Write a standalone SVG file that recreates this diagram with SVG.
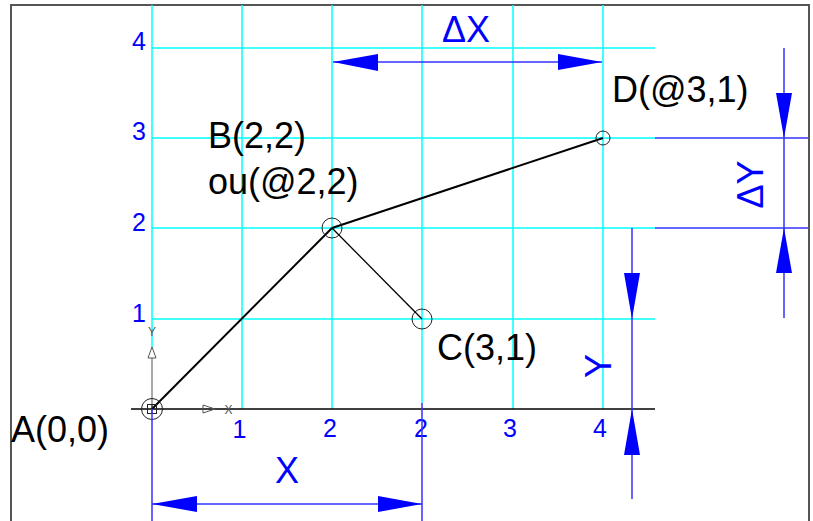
<svg xmlns="http://www.w3.org/2000/svg" width="813" height="521" viewBox="0 0 813 521">
<style>
.grid{stroke:#00ffff;stroke-width:1.5;fill:none}
.dim{stroke:#3333ff;stroke-width:1.5;fill:none}
.arr{fill:#0000ff;stroke:none}
.tick{font-family:"Liberation Sans",Arial,sans-serif;font-size:25px;fill:#0000ff}
.dl{font-family:"Liberation Sans",Arial,sans-serif;font-size:36px;fill:#0000ff}
.lbl{font-family:"Liberation Sans",Arial,sans-serif;font-size:36px;fill:#000}
.seg{stroke:#000;fill:none}
.pt{stroke:#222;stroke-width:1;fill:none}
.ucs{stroke:#555;stroke-width:1;fill:none}
.ucst{font-family:"Liberation Sans",Arial,sans-serif;font-size:12px;fill:#555}
</style>
<rect width="813" height="521" fill="#fff"/>
<g id="frame" stroke="#555" stroke-width="2" fill="none">
<path d="M11,521 V5 H809 V521"/>
</g>
<g id="grid" class="grid">
<path d="M152,5 V347 M242,5 V409 M332,5 V409 M422,5 V403 M513,5 V409 M603,5 V409"/>
<path d="M152,48 H655 M152,138 H655 M152,228 H655 M152,319 H655"/>
</g>
<g id="axis">
<path d="M131,409 H655" stroke="#000" stroke-width="1.5"/>
</g>
<g id="ticks">
<text class="tick" x="146" y="50" text-anchor="end">4</text>
<text class="tick" x="146" y="140" text-anchor="end">3</text>
<text class="tick" x="146" y="231" text-anchor="end">2</text>
<text class="tick" x="146" y="322" text-anchor="end">1</text>
<text class="tick" x="232.5" y="438">1</text>
<text class="tick" x="330" y="437" text-anchor="middle">2</text>
<text class="tick" x="421" y="437" text-anchor="middle">2</text>
<text class="tick" x="510" y="437" text-anchor="middle">3</text>
<text class="tick" x="600" y="437" text-anchor="middle">4</text>
</g>
<g id="ucs">
<path class="ucs" d="M152,358 V409"/>
<polygon class="ucs" points="152,347 148,358 156,358"/>
<polygon class="ucs" points="215,409 203,405 203,413"/>
<text class="ucst" x="152" y="336" text-anchor="middle">Y</text>
<text class="ucst" x="224.5" y="413.5">X</text>
</g>
<g id="connectors">
<path class="seg" stroke-width="2" d="M152,409 L332,228"/>
<path class="seg" stroke-width="2" d="M332,228 L603,138"/>
<path class="seg" stroke-width="1.3" d="M332,228 L422,319"/>
</g>
<g id="A">
<circle class="pt" cx="152" cy="409" r="10.5"/>
<rect class="pt" x="147.5" y="404.5" width="9" height="9"/>
<path class="pt" d="M152,404.5 V413.5"/>
<text class="lbl" x="11" y="442">A(0,0)</text>
</g>
<g id="B">
<circle class="pt" cx="332" cy="228" r="10"/>
<text class="lbl" x="208" y="148">B(2,2)</text>
<text class="lbl" x="208" y="194">ou(@2,2)</text>
</g>
<g id="C">
<circle class="pt" cx="422" cy="319" r="10"/>
<text class="lbl" x="437" y="360">C(3,1)</text>
</g>
<g id="D">
<circle class="pt" cx="603" cy="138" r="7"/>
<text class="lbl" x="612" y="102">D(@3,1)</text>
</g>
<g id="dim-dx">
<path class="dim" d="M333,62 H602"/>
<polygon class="arr" points="333,62 378,54 378,71"/>
<polygon class="arr" points="602,62 558,54 558,70"/>
<text class="dl" x="442" y="42">ΔX</text>
</g>
<g id="dim-x">
<path class="dim" d="M152,409 V521 M422,403 V521 M152,504 H422"/>
<polygon class="arr" points="152,504 197,496 197,512"/>
<polygon class="arr" points="422,504 378,496 378,512"/>
<text class="dl" x="287" y="483" text-anchor="middle">X</text>
</g>
<g id="dim-dy">
<path class="dim" d="M655,138 H808 M655,228 H808 M784,48 V318"/>
<polygon class="arr" points="784,138 776,93 792,93"/>
<polygon class="arr" points="784,228 776,273 792,273"/>
<text class="dl" transform="translate(763,184.5) rotate(-90)" text-anchor="middle">ΔY</text>
</g>
<g id="dim-y">
<path class="dim" d="M632,228 V499"/>
<polygon class="arr" points="632,319 624,273 640,273"/>
<polygon class="arr" points="632,409 624,455 640,455"/>
<text class="dl" transform="translate(611,366) rotate(-90)" text-anchor="middle">Y</text>
</g>
</svg>
